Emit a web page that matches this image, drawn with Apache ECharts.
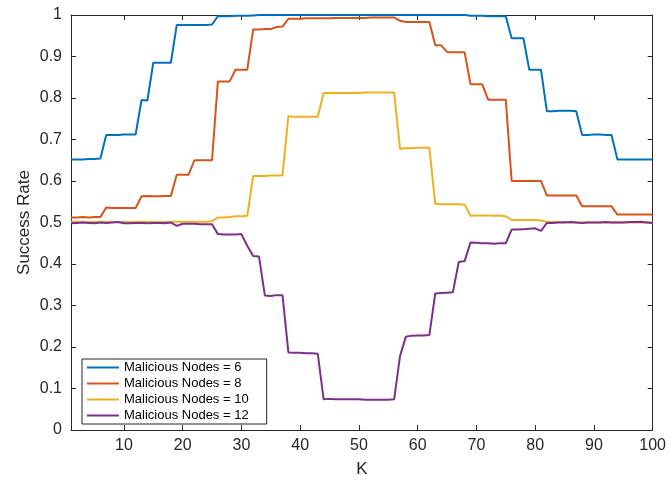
<!DOCTYPE html>
<html>
<head>
<meta charset="utf-8">
<script src="https://cdn.jsdelivr.net/npm/echarts@6/dist/echarts.min.js"></script>
<style>
  html, body { margin: 0; padding: 0; background: #fff; }
  #chart { width: 669px; height: 483px; }
</style>
</head>
<body>
<div id="chart"></div>
<script>
// K = 1..100
const K = Array.from({length: 100}, (_, i) => i + 1);

const seriesNames = ['Malicious Nodes = 6', 'Malicious Nodes = 8', 'Malicious Nodes = 10', 'Malicious Nodes = 12'];

const nodes6 = [
  0.652, 0.652, 0.652, 0.653, 0.653, 0.654,
  0.711, 0.711, 0.711, 0.712, 0.712, 0.712,
  0.795, 0.794,
  0.885, 0.885, 0.885, 0.885,
  0.976, 0.976, 0.976, 0.976, 0.976, 0.976, 0.977,
  0.997, 0.997, 0.997, 0.998, 0.998, 0.998, 0.999,
  1.0, 1.0, 1.0, 1.0, 1.0, 1.0, 1.0, 1.0, 1.0, 1.0,
  1.0, 1.0, 1.0, 1.0, 1.0, 1.0, 1.0, 1.0, 1.0, 1.0,
  1.0, 1.0, 1.0, 1.0, 1.0, 1.0, 1.0, 1.0, 1.0, 1.0,
  1.0, 1.0, 1.0, 1.0, 1.0, 1.0,
  0.998, 0.998, 0.998, 0.997, 0.997, 0.997, 0.997,
  0.944, 0.944, 0.944,
  0.868, 0.868, 0.868,
  0.768, 0.768, 0.769, 0.769, 0.769, 0.768,
  0.711, 0.711, 0.712, 0.712, 0.711, 0.711,
  0.652, 0.652, 0.652, 0.652, 0.652, 0.652, 0.652
];

const nodes8 = [
  0.512, 0.512, 0.513, 0.512, 0.513, 0.513,
  0.536, 0.535, 0.535, 0.535, 0.535, 0.535,
  0.563, 0.564, 0.563, 0.563, 0.564, 0.564,
  0.615, 0.615, 0.615,
  0.650, 0.650, 0.650, 0.650,
  0.840, 0.840, 0.840,
  0.868, 0.868, 0.868,
  0.965, 0.965, 0.966, 0.966, 0.971, 0.972,
  0.991, 0.991, 0.991, 0.992, 0.992, 0.992, 0.992, 0.992, 0.993, 0.993,
  0.993, 0.993, 0.993, 0.993, 0.994, 0.994, 0.994, 0.994, 0.994,
  0.986, 0.983, 0.983, 0.983, 0.983, 0.983,
  0.927, 0.927,
  0.911, 0.910, 0.910, 0.910,
  0.833, 0.833, 0.833,
  0.796, 0.796, 0.796, 0.796,
  0.600, 0.600, 0.600, 0.600, 0.600, 0.600,
  0.565, 0.565, 0.565, 0.565, 0.565, 0.565,
  0.539, 0.539, 0.539, 0.539, 0.539, 0.539,
  0.519, 0.519, 0.519, 0.519, 0.519, 0.519, 0.519
];

const nodes10 = [
  0.502, 0.502, 0.501, 0.501, 0.501, 0.502, 0.502, 0.501, 0.501, 0.501,
  0.501, 0.501, 0.502, 0.502, 0.501, 0.501, 0.501, 0.502, 0.502, 0.502,
  0.502, 0.502, 0.502, 0.502, 0.503,
  0.512, 0.512, 0.513, 0.515, 0.515, 0.516,
  0.612, 0.612, 0.612, 0.613, 0.613, 0.614,
  0.756, 0.755, 0.755, 0.755, 0.755, 0.755,
  0.812, 0.812, 0.812, 0.812, 0.812, 0.812, 0.812, 0.813, 0.813, 0.813, 0.813, 0.813, 0.813,
  0.678, 0.679, 0.679, 0.680, 0.680, 0.680,
  0.545, 0.544, 0.544, 0.544, 0.544, 0.543,
  0.516, 0.517, 0.517, 0.517, 0.516, 0.517, 0.515,
  0.506, 0.506, 0.506, 0.506, 0.506, 0.505,
  0.502, 0.501, 0.501, 0.501, 0.500, 0.500, 0.500, 0.500, 0.500, 0.500,
  0.500, 0.500, 0.500, 0.500, 0.500, 0.500, 0.500, 0.500, 0.500
];

const nodes12 = [
  0.498, 0.499, 0.500, 0.499, 0.498, 0.500, 0.499, 0.500, 0.501, 0.498,
  0.498, 0.499, 0.499, 0.498, 0.499, 0.499, 0.498, 0.500,
  0.492, 0.497, 0.497, 0.497, 0.496, 0.496, 0.496,
  0.472, 0.471, 0.471, 0.471, 0.472,
  0.444, 0.419, 0.418,
  0.324, 0.323, 0.325, 0.325,
  0.187, 0.186, 0.186, 0.185, 0.185, 0.184,
  0.074, 0.075, 0.074, 0.074, 0.074, 0.074, 0.074, 0.073, 0.073, 0.073, 0.073, 0.073, 0.074,
  0.178,
  0.225, 0.227, 0.228, 0.228, 0.229,
  0.329, 0.330, 0.331, 0.332,
  0.405, 0.407,
  0.452, 0.451, 0.450, 0.450, 0.449, 0.450, 0.450,
  0.483, 0.483, 0.484, 0.485, 0.486,
  0.480,
  0.499, 0.499, 0.500, 0.500, 0.501, 0.500, 0.499, 0.500, 0.500, 0.500,
  0.501, 0.500, 0.500, 0.500, 0.501, 0.501, 0.502, 0.500, 0.499
];

const xTicks = [10, 20, 30, 40, 50, 60, 70, 80, 90, 100];
const yTicks = [0, 0.1, 0.2, 0.3, 0.4, 0.5, 0.6, 0.7, 0.8, 0.9, 1];
const colors = ['#0072BD', '#D95319', '#EDB120', '#7E2F8E'];

const allData = [nodes6, nodes8, nodes10, nodes12];

const FONT = 'Liberation Sans, Arial, Helvetica, sans-serif';
const axisColor = '#262626';

const chart = echarts.init(document.getElementById('chart'), null, {renderer: 'canvas'});

const series = allData.map((arr, i) => ({
  name: seriesNames[i],
  type: 'line',
  xAxisIndex: 0,
  yAxisIndex: 0,
  data: K.map((k, j) => [k, arr[j]]),
  symbol: 'none',
  smooth: false,
  animation: false,
  lineStyle: { color: colors[i], width: 2 },
  itemStyle: { color: colors[i] }
}));

const option = {
  animation: false,
  backgroundColor: '#fff',
  color: colors,
  grid: {
    left: 71, right: 12, top: 15, bottom: 46,
    show: false
  },
  legend: {
    data: seriesNames,
    orient: 'vertical',
    left: 82,
    top: 359,
    itemWidth: 32,
    itemHeight: 14,
    itemGap: 3,
    padding: [2, 18, 2, 4],
    backgroundColor: '#fff',
    borderColor: '#262626',
    borderWidth: 1,
    itemStyle: { opacity: 0 },
    textStyle: { fontFamily: FONT, fontSize: 13, color: '#000' },
    selectedMode: false
  },
  xAxis: [
    {
      type: 'value',
      min: 1, max: 100,
      position: 'bottom',
      name: 'K',
      nameLocation: 'middle',
      nameGap: 31,
      nameTextStyle: { fontFamily: FONT, fontSize: 17, color: axisColor },
      axisLine: { show: true, onZero: false, lineStyle: { color: axisColor, width: 1 } },
      axisTick: { show: true, inside: true, length: 5, customValues: xTicks, lineStyle: { color: axisColor } },
      axisLabel: { show: true, customValues: xTicks, fontFamily: FONT, fontSize: 16, color: axisColor, margin: 8 },
      splitLine: { show: false }
    },
    {
      type: 'value',
      min: 1, max: 100,
      position: 'top',
      axisLine: { show: true, onZero: false, lineStyle: { color: axisColor, width: 1 } },
      axisTick: { show: true, inside: true, length: 5, customValues: xTicks, lineStyle: { color: axisColor } },
      axisLabel: { show: false },
      splitLine: { show: false }
    }
  ],
  yAxis: [
    {
      type: 'value',
      min: 0, max: 1, interval: 0.1,
      position: 'left',
      name: 'Success Rate',
      nameLocation: 'middle',
      nameGap: 38,
      nameMoveOverlap: false,
      nameTextStyle: { fontFamily: FONT, fontSize: 17, color: axisColor },
      axisLine: { show: true, onZero: false, lineStyle: { color: axisColor, width: 1 } },
      axisTick: { show: true, inside: true, length: 5, lineStyle: { color: axisColor } },
      axisLabel: {
        show: true, fontFamily: FONT, fontSize: 16, color: axisColor, margin: 9,
        formatter: v => String(parseFloat(v.toFixed(1)))
      },
      splitLine: { show: false }
    },
    {
      type: 'value',
      min: 0, max: 1, interval: 0.1,
      position: 'right',
      axisLine: { show: true, onZero: false, lineStyle: { color: axisColor, width: 1 } },
      axisTick: { show: true, inside: true, length: 5, lineStyle: { color: axisColor } },
      axisLabel: { show: false },
      splitLine: { show: false }
    }
  ],
  series: series
};

chart.setOption(option);
</script>
</body>
</html>
